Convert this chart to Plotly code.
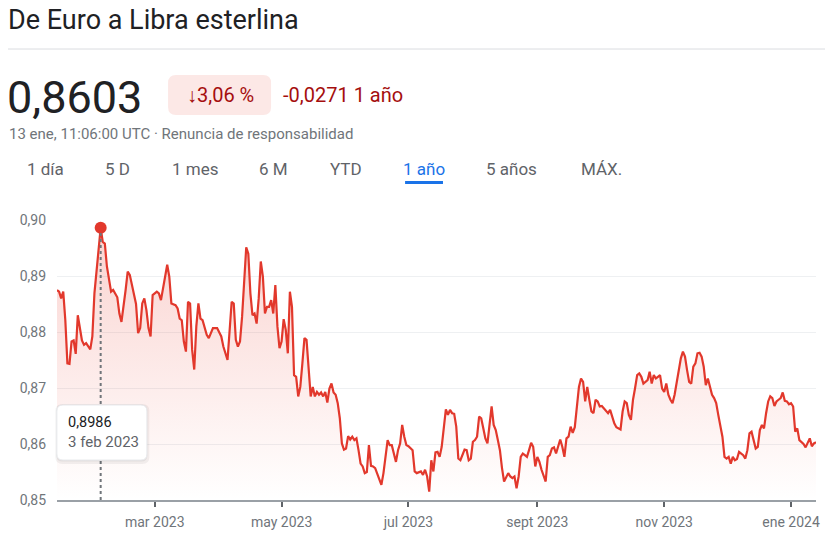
import pandas as pd
import plotly.graph_objects as go

# days since 13 ene 2023 and EUR->GBP rate
dias = [0, 1, 2, 3, 4, 5, 6, 7, 8, 9, 10, 12, 13, 14, 16, 17, 18, 19, 20, 21,
        22, 23, 24, 25, 26, 27, 28, 29, 30, 31, 33, 34, 35, 36, 38, 39, 40, 41, 42, 43,
        44, 45, 46, 48, 49, 50, 51, 53, 54, 55, 57, 58, 59, 60, 61, 62, 63, 64, 65, 66,
        67, 68, 69, 70, 72, 73, 75, 77, 79, 80, 82, 83, 84, 85, 86, 87, 88, 89, 90, 91,
        92, 93, 94, 95, 96, 97, 98, 99, 100, 101, 102, 103, 104, 105, 106, 107, 108, 109, 110, 111,
        112, 113, 114, 115, 116, 117, 118, 119, 120, 121, 122, 123, 124, 125, 126, 127, 128, 129, 130, 131,
        132, 133, 134, 135, 136, 137, 138, 139, 140, 141, 142, 143, 144, 145, 146, 147, 148, 149, 150, 151,
        152, 153, 154, 155, 156, 157, 158, 159, 160, 161, 163, 164, 165, 166, 167, 168, 169, 171, 172, 173,
        175, 176, 177, 178, 179, 180, 181, 182, 183, 184, 185, 186, 187, 188, 189, 190, 191, 192, 193, 194,
        195, 196, 197, 198, 199, 200, 201, 202, 203, 204, 205, 206, 207, 208, 209, 210, 211, 212, 213, 214,
        215, 217, 218, 219, 220, 221, 222, 223, 224, 225, 226, 227, 228, 229, 230, 231, 232, 233, 235, 236,
        237, 238, 239, 240, 241, 242, 243, 244, 245, 246, 247, 248, 249, 250, 251, 252, 253, 254, 255, 256,
        257, 258, 259, 260, 261, 262, 264, 265, 266, 267, 268, 269, 271, 272, 273, 274, 275, 276, 277, 278,
        279, 280, 281, 282, 283, 284, 285, 286, 287, 288, 289, 290, 291, 292, 293, 294, 295, 296, 297, 298,
        299, 300, 301, 302, 303, 304, 305, 306, 307, 308, 309, 310, 311, 312, 313, 314, 315, 316, 317, 318,
        319, 320, 321, 322, 323, 324, 325, 326, 327, 328, 330, 331, 332, 333, 334, 335, 336, 337, 338, 339,
        340, 341, 342, 343, 344, 345, 346, 347, 348, 349, 350, 351, 352, 353, 354, 355, 356, 357, 358, 359,
        360, 361, 362, 363, 364, 365]
valores = [0.8875, 0.8872, 0.8860, 0.8872, 0.8821, 0.8744, 0.8743, 0.8783, 0.8785, 0.8761, 0.8830, 0.8785, 0.8777, 0.8780, 0.8769, 0.8792, 0.8869, 0.8908, 0.8958, 0.8986,
           0.8961, 0.8958, 0.8917, 0.8896, 0.8872, 0.8875, 0.8868, 0.8862, 0.8833, 0.8818, 0.8875, 0.8908, 0.8902, 0.8884, 0.8850, 0.8798, 0.8807, 0.8851, 0.8860, 0.8839,
           0.8807, 0.8792, 0.8866, 0.8872, 0.8869, 0.8857, 0.8878, 0.8920, 0.8899, 0.8851, 0.8848, 0.8842, 0.8824, 0.8821, 0.8783, 0.8765, 0.8854, 0.8851, 0.8768, 0.8733,
           0.8810, 0.8851, 0.8824, 0.8821, 0.8795, 0.8789, 0.8807, 0.8807, 0.8792, 0.8774, 0.8750, 0.8810, 0.8854, 0.8851, 0.8786, 0.8774, 0.8783, 0.8827, 0.8899, 0.8951,
           0.8940, 0.8869, 0.8830, 0.8833, 0.8815, 0.8860, 0.8926, 0.8899, 0.8833, 0.8845, 0.8845, 0.8857, 0.8833, 0.8884, 0.8810, 0.8771, 0.8783, 0.8823, 0.8804, 0.8762,
           0.8872, 0.8845, 0.8723, 0.8720, 0.8685, 0.8702, 0.8744, 0.8789, 0.8786, 0.8738, 0.8685, 0.8702, 0.8685, 0.8693, 0.8688, 0.8692, 0.8685, 0.8693, 0.8674, 0.8699,
           0.8708, 0.8692, 0.8688, 0.8673, 0.8646, 0.8601, 0.8590, 0.8592, 0.8614, 0.8608, 0.8613, 0.8607, 0.8610, 0.8589, 0.8565, 0.8560, 0.8548, 0.8550, 0.8598, 0.8561,
           0.8560, 0.8557, 0.8548, 0.8539, 0.8527, 0.8548, 0.8584, 0.8607, 0.8598, 0.8598, 0.8568, 0.8589, 0.8601, 0.8634, 0.8613, 0.8598, 0.8596, 0.8589, 0.8551, 0.8548,
           0.8551, 0.8545, 0.8554, 0.8542, 0.8515, 0.8571, 0.8551, 0.8585, 0.8586, 0.8577, 0.8595, 0.8625, 0.8662, 0.8652, 0.8661, 0.8655, 0.8654, 0.8631, 0.8574, 0.8571,
           0.8580, 0.8590, 0.8589, 0.8571, 0.8574, 0.8604, 0.8607, 0.8613, 0.8649, 0.8646, 0.8628, 0.8610, 0.8601, 0.8631, 0.8667, 0.8634, 0.8625, 0.8607, 0.8589, 0.8557,
           0.8533, 0.8548, 0.8542, 0.8539, 0.8542, 0.8521, 0.8542, 0.8577, 0.8583, 0.8580, 0.8577, 0.8589, 0.8602, 0.8595, 0.8560, 0.8577, 0.8568, 0.8554, 0.8533, 0.8577,
           0.8580, 0.8592, 0.8594, 0.8583, 0.8595, 0.8608, 0.8595, 0.8577, 0.8610, 0.8613, 0.8631, 0.8620, 0.8630, 0.8661, 0.8702, 0.8717, 0.8711, 0.8676, 0.8702, 0.8679,
           0.8658, 0.8655, 0.8679, 0.8676, 0.8667, 0.8668, 0.8658, 0.8655, 0.8661, 0.8649, 0.8637, 0.8630, 0.8626, 0.8658, 0.8676, 0.8673, 0.8652, 0.8643, 0.8679, 0.8700,
           0.8723, 0.8726, 0.8720, 0.8708, 0.8711, 0.8714, 0.8729, 0.8708, 0.8723, 0.8717, 0.8720, 0.8723, 0.8699, 0.8693, 0.8708, 0.8688, 0.8679, 0.8673, 0.8688, 0.8708,
           0.8726, 0.8753, 0.8765, 0.8756, 0.8732, 0.8711, 0.8708, 0.8738, 0.8744, 0.8762, 0.8763, 0.8756, 0.8738, 0.8705, 0.8717, 0.8700, 0.8688, 0.8682, 0.8673, 0.8652,
           0.8634, 0.8613, 0.8577, 0.8574, 0.8577, 0.8565, 0.8577, 0.8571, 0.8573, 0.8586, 0.8580, 0.8574, 0.8589, 0.8619, 0.8622, 0.8604, 0.8592, 0.8595, 0.8625, 0.8634,
           0.8628, 0.8655, 0.8676, 0.8685, 0.8682, 0.8668, 0.8676, 0.8679, 0.8682, 0.8692, 0.8677, 0.8676, 0.8671, 0.8673, 0.8667, 0.8622, 0.8628, 0.8607, 0.8604, 0.8600,
           0.8594, 0.8601, 0.8610, 0.8596, 0.8601, 0.8603]

y_ticks = [0.85, 0.86, 0.87, 0.88, 0.89, 0.90]
y_labels = ["0,85", "0,86", "0,87", "0,88", "0,89", "0,90"]
x_ticks = ["2023-03-01", "2023-05-01", "2023-07-01", "2023-09-01", "2023-11-01", "2024-01-01"]
x_labels = ["mar 2023", "may 2023", "jul 2023", "sept 2023", "nov 2023", "ene 2024"]
tabs = ["1 día", "5 D", "1 mes", "6 M", "YTD", "1 año", "5 años", "MÁX."]
tab_x = [43, 116, 193, 272, 345, 423, 511, 601]

inicio = pd.Timestamp("2023-01-13")
df = pd.DataFrame({"fecha": inicio + pd.to_timedelta(dias, unit="D"), "valor": valores})
pico = df.loc[df["valor"].idxmax()]

# the page body adds an 8px margin, so the figure starts at (8, 8) in the window
OFF = 8
W, H = 833 - OFF, 546 - OFF
L, R, T, B = 55 - OFF, 17, 220 - OFF, 46
FONT = "Roboto, Arial, sans-serif"
RED = "#e2382c"


def px(x, y):
    # window pixel -> paper coords
    x, y = x - OFF, y - OFF
    return (x - L) / (W - L - R), (H - B - y) / (H - T - B)


def rrect(cx, cy, w, h, r, **kw):
    a, b = px(cx, cy)
    hw, hh = w / 2, h / 2
    path = (f"M {-hw + r},{-hh} L {hw - r},{-hh} Q {hw},{-hh} {hw},{-hh + r} "
            f"L {hw},{hh - r} Q {hw},{hh} {hw - r},{hh} L {-hw + r},{hh} "
            f"Q {-hw},{hh} {-hw},{hh - r} L {-hw},{-hh + r} Q {-hw},{-hh} {-hw + r},{-hh} Z")
    return dict(type="path", xref="paper", yref="paper", xsizemode="pixel", ysizemode="pixel",
                xanchor=a, yanchor=b, path=path, layer="above", **kw)


def text(x, y, s, size, color, anchor="left", **kw):
    a, b = px(x, y)
    return dict(x=a, y=b, xref="paper", yref="paper", text=s, showarrow=False,
                xanchor=anchor, yanchor="middle", font=dict(family=FONT, size=size, color=color), **kw)


fig = go.Figure()
fig.add_trace(go.Scatter(
    x=df["fecha"], y=df["valor"], mode="lines",
    line=dict(color=RED, width=2.2), fill="tozeroy",
    fillgradient=dict(type="vertical", start=0.85, stop=0.90,
                      colorscale=[[0, "rgba(234,67,53,0)"], [1, "rgba(234,67,53,0.24)"]]),
    hoverinfo="skip", showlegend=False))
fig.add_trace(go.Scatter(
    x=[pico["fecha"]], y=[pico["valor"]], mode="markers",
    marker=dict(color=RED, size=12), cliponaxis=False, hoverinfo="skip", showlegend=False))

shapes = []
x0, _ = px(5, 0)
_, y49 = px(0, 49)
shapes.append(dict(type="line", xref="paper", yref="paper", x0=x0, x1=px(833, 0)[0], y0=y49, y1=y49,
                   line=dict(color="#dadce0", width=1), layer="above"))
shapes.append(rrect(218, 95, 103, 40, 8, fillcolor="#fce8e6", line=dict(width=0)))
ua, _ = px(404, 0)
ub, _ = px(442, 0)
_, uy0 = px(0, 184)
_, uy1 = px(0, 181)
shapes.append(dict(type="rect", xref="paper", yref="paper", x0=ua, x1=ub, y0=uy0, y1=uy1,
                   fillcolor="#1a73e8", line=dict(width=0), layer="above"))
shapes.append(dict(type="line", xref="x", yref="y", x0=pico["fecha"], x1=pico["fecha"],
                   y0=0.85, y1=pico["valor"] - 0.0008,
                   line=dict(color="#70757a", width=2, dash="dot"), layer="above"))
# tooltip with a soft shadow
shapes.append(rrect(100.5, 434, 94, 60, 7, fillcolor="rgba(0,0,0,0.05)", line=dict(width=0)))
shapes.append(rrect(100, 433, 91, 57, 6, fillcolor="rgba(0,0,0,0.06)", line=dict(width=0)))
shapes.append(rrect(100, 432.5, 90, 55, 6, fillcolor="white", line=dict(color="#e8eaed", width=1)))

ann = [
    text(4, 20, "De Euro a Libra esterlina", 27, "#202124"),
    text(3, 97, "0,8603", 45, "#202124"),
    text(219, 95, "↓3,06 %", 20, "#a50e0e", anchor="center"),
    text(280, 95, "-0,0271 1 año", 20, "#a50e0e"),
    text(5, 134, "13 ene, 11:06:00 UTC · Renuncia de responsabilidad", 15, "#70757a"),
    text(64, 422, "0,8986", 14.5, "#202124"),
    text(64, 442, "3 feb 2023", 15, "#5f6368"),
]
for t, cx in zip(tabs, tab_x):
    ann.append(text(cx, 169, t, 17, "#1a73e8" if t == "1 año" else "#5f6368", anchor="center"))

fig.update_layout(
    width=W, height=H, margin=dict(l=L, r=R, t=T, b=B),
    paper_bgcolor="white", plot_bgcolor="white",
    font=dict(family=FONT, color="#70757a"),
    shapes=shapes, annotations=ann, hovermode=False,
    xaxis=dict(type="date", range=[inicio, inicio + pd.Timedelta(days=365)],
               tickvals=x_ticks, ticktext=x_labels, ticks="outside", ticklen=5, tickwidth=2,
               tickcolor="#5f6368", showline=True, linecolor="#9aa0a6", linewidth=1.5,
               showgrid=False, zeroline=False, ticklabelstandoff=3,
               tickfont=dict(size=14, color="#70757a")),
    yaxis=dict(range=[0.85, 0.90], tickvals=y_ticks, ticktext=y_labels, showgrid=True,
               gridcolor="#eef0f2", gridwidth=1, zeroline=False, showline=False,
               ticklabelstandoff=10, tickfont=dict(size=14, color="#70757a")),
)

fig.write_html("out.html")
